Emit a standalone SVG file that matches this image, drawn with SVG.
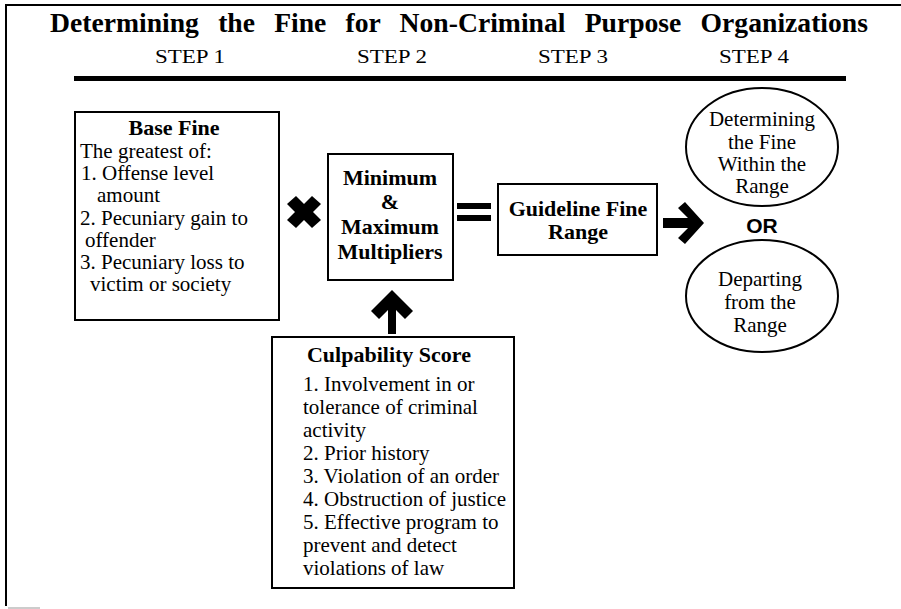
<svg xmlns="http://www.w3.org/2000/svg" width="901" height="609" viewBox="0 0 901 609">
<style>
.frame{stroke:#000;stroke-width:2;fill:none}
.box{fill:#fff;stroke:#000;stroke-width:2}
.t{font-family:"Liberation Serif","Times New Roman",serif;font-size:21px;fill:#000}
.b{font-family:"Liberation Serif","Times New Roman",serif;font-size:22px;font-weight:bold;fill:#000}
.title{font-family:"Liberation Serif","Times New Roman",serif;font-size:27px;font-weight:bold;fill:#000;word-spacing:12px}
.step{font-family:"Liberation Serif","Times New Roman",serif;font-size:19px;fill:#000}
.c{text-anchor:middle}
.sym{fill:#000;stroke:none}
</style>
<rect width="901" height="609" fill="#fff"/>
<g id="frame">
<line class="frame" x1="5" y1="5" x2="901" y2="5"/>
<line class="frame" x1="6" y1="4" x2="6" y2="606"/>
<line x1="8" y1="608" x2="40" y2="608" stroke="#bbb" stroke-width="1.5"/>
</g>
<g id="header">
<text class="title" x="50" y="32" textLength="818" lengthAdjust="spacingAndGlyphs">Determining the Fine for Non-Criminal Purpose Organizations</text>
<text class="step c" x="190" y="63" textLength="70" lengthAdjust="spacingAndGlyphs">STEP 1</text>
<text class="step c" x="392" y="63" textLength="70" lengthAdjust="spacingAndGlyphs">STEP 2</text>
<text class="step c" x="573" y="63" textLength="70" lengthAdjust="spacingAndGlyphs">STEP 3</text>
<text class="step c" x="754" y="63" textLength="70" lengthAdjust="spacingAndGlyphs">STEP 4</text>
<rect x="74" y="76" width="772" height="5" fill="#000"/>
</g>
<g id="base-fine">
<rect class="box" x="75" y="112" width="204" height="208"/>
<text class="b c" x="174" y="135">Base Fine</text>
<text class="t" x="80" y="158">The greatest of:</text>
<text class="t" x="81" y="180">1. Offense level</text>
<text class="t" x="97" y="202">amount</text>
<text class="t" x="80" y="224.5">2. Pecuniary gain to</text>
<text class="t" x="85" y="247">offender</text>
<text class="t" x="80" y="269">3. Pecuniary loss to</text>
<text class="t" x="90" y="291">victim or society</text>
</g>
<g id="multipliers">
<rect class="box" x="328" y="154" width="125" height="126"/>
<text class="b c" x="390" y="185">Minimum</text>
<text class="b c" x="390" y="209">&amp;</text>
<text class="b c" x="390" y="234">Maximum</text>
<text class="b c" x="390" y="259">Multipliers</text>
</g>
<g id="guideline-range">
<rect class="box" x="498" y="184" width="159" height="71"/>
<text class="b c" x="578" y="216">Guideline Fine</text>
<text class="b c" x="578" y="239">Range</text>
</g>
<g id="within-range">
<ellipse class="box" cx="762" cy="147" rx="76" ry="59"/>
<text class="t c" x="762" y="126">Determining</text>
<text class="t c" x="762" y="149">the Fine</text>
<text class="t c" x="762" y="171">Within the</text>
<text class="t c" x="762" y="193">Range</text>
</g>
<g id="or-label">
<text x="762" y="233" text-anchor="middle" font-family="'Liberation Sans',Arial,sans-serif" font-weight="bold" font-size="21">OR</text>
</g>
<g id="departing">
<ellipse class="box" cx="762" cy="296" rx="76" ry="56"/>
<text class="t c" x="760" y="286">Departing</text>
<text class="t c" x="760" y="309">from the</text>
<text class="t c" x="760" y="332">Range</text>
</g>
<g id="culpability">
<rect class="box" x="272" y="337" width="242" height="251"/>
<text class="b c" x="389" y="362">Culpability Score</text>
<text class="t" x="303" y="391">1. Involvement in or</text>
<text class="t" x="303" y="414">tolerance of criminal</text>
<text class="t" x="303" y="437">activity</text>
<text class="t" x="303" y="460">2. Prior history</text>
<text class="t" x="303" y="483">3. Violation of an order</text>
<text class="t" x="303" y="506">4. Obstruction of justice</text>
<text class="t" x="303" y="529">5. Effective program to</text>
<text class="t" x="303" y="552">prevent and detect</text>
<text class="t" x="303" y="575">violations of law</text>
</g>
<g id="connectors">
<polygon class="sym" points="287,204 296,196 304,204 312,196 321,204 313,212 321,220 312,228 304,220 296,228 287,220 295,212"/>
<rect class="sym" x="457" y="203" width="34" height="6"/>
<rect class="sym" x="457" y="215" width="34" height="6"/>
<polygon class="sym" points="392,290 413,311 405,319 396,310 396,334 388,334 388,310 379,319 371,311"/>
<polygon class="sym" points="663,218 688,218 678,208 685,202 704,223 685,244 678,238 688,228 663,228"/>
</g>
</svg>
